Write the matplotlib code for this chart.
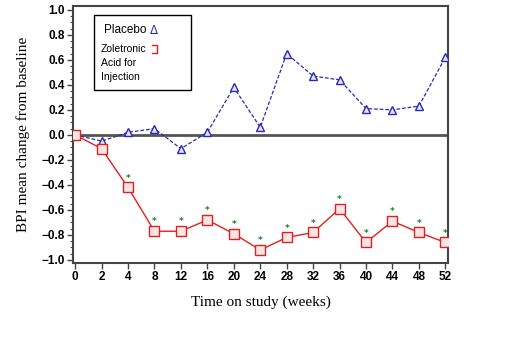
import matplotlib
matplotlib.use("Agg")
import matplotlib.pyplot as plt
from matplotlib.ticker import MultipleLocator, FuncFormatter
from matplotlib.patches import Rectangle
from matplotlib.lines import Line2D

weeks = ["0", "2", "4", "8", "12", "16", "20", "24", "28", "32", "36", "40", "44", "48", "52"]
placebo = [0.0, -0.05, 0.02, 0.05, -0.11, 0.02, 0.38, 0.06, 0.65, 0.47, 0.44, 0.21, 0.20, 0.23, 0.62]
zoledronic = [0.0, -0.11, -0.42, -0.77, -0.77, -0.68, -0.79, -0.92, -0.82, -0.78, -0.59, -0.86, -0.69, -0.78, -0.86]
significant = [False, False, True, True, True, True, True, True, True, True, True, True, True, True, True]

fig = plt.figure(figsize=(5.12, 3.39), dpi=100)
W, H = 512, 339
ax = fig.add_axes([73 / W, 1 - 263 / H, (448 - 73) / W, (263 - 6) / H])

x = list(range(len(weeks)))
ax.axhline(0, color="#555555", lw=2, zorder=1)
ax.plot(x, placebo, color="#2a2ab8", lw=0.9, ls=(0, (3, 1.5)), marker="^", ms=6,
        mfc="#e4e4f8", mec="#2a2ab8", mew=1.0, zorder=3)
ax.plot(x, zoledronic, color="#e02020", lw=1.0, marker="s", ms=6.5,
        mfc="#fbe4e4", mec="#e02020", mew=1.0, zorder=3)
for xi, yi, s in zip(x, zoledronic, significant):
    if s:
        ax.annotate("*", (xi, yi), xytext=(0, 3.5), textcoords="offset points",
                    ha="center", va="bottom", color="#208020", fontsize=6.5, fontweight="bold")

ax.set_xlim(-0.08, 14.1)
ax.set_ylim(-1.024, 1.03)
ax.set_xticks(x)
ax.set_xticklabels(weeks)
ax.yaxis.set_major_locator(MultipleLocator(0.2))
ax.yaxis.set_minor_locator(MultipleLocator(0.05))
ax.yaxis.set_major_formatter(FuncFormatter(
    lambda v, p: ("%.1f" % (0.0 if abs(v) < 1e-9 else v)).replace("-", "\u2212")))
for lab in ax.get_xticklabels() + ax.get_yticklabels():
    lab.set_fontweight("bold")
    lab.set_fontfamily("Liberation Sans")
    lab.set_fontsize(8.5)
ax.tick_params(axis="both", which="major", length=4, width=1, color="#444444", pad=2)
ax.tick_params(axis="y", which="minor", length=2, width=0.8, color="#444444")
for sp in ax.spines.values():
    sp.set_color("#444444")
    sp.set_linewidth(1.5)

ax.set_xlabel("Time on study (weeks)", fontfamily="Liberation Serif", fontsize=11, labelpad=9)
ax.set_ylabel("BPI mean change from baseline", fontfamily="Liberation Serif", fontsize=11, labelpad=8)

# legend box
lx0, ly0, lx1, ly1 = 94, 15, 191, 90
fig.patches.append(Rectangle((lx0 / W, 1 - ly1 / H), (lx1 - lx0) / W, (ly1 - ly0) / H,
                             transform=fig.transFigure, fill=True, fc="white",
                             ec="black", lw=1.0, zorder=5))
fig.text(104 / W, 1 - 30 / H, "Placebo", fontsize=8.5, fontfamily="Liberation Sans", va="center", zorder=6)
fig.text(150 / W, 1 - 30 / H, "\u0394", fontsize=8.5, color="#2a2ab8", fontfamily="DejaVu Sans", va="center", zorder=6)
fig.text(101 / W, 1 - 49 / H, "Zoletronic", fontsize=7.5, fontfamily="Liberation Sans", va="center", zorder=6)
fig.lines.append(Line2D([152 / W, 157 / W, 157 / W, 152 / W],
                        [1 - 45 / H, 1 - 45 / H, 1 - 53 / H, 1 - 53 / H],
                        transform=fig.transFigure, color="#e02020", lw=1.0, zorder=6))
fig.text(101 / W, 1 - 63 / H, "Acid for", fontsize=7.5, fontfamily="Liberation Sans", va="center", zorder=6)
fig.text(101 / W, 1 - 77 / H, "Injection", fontsize=7.5, fontfamily="Liberation Sans", va="center", zorder=6)

fig.savefig("out.png", dpi=100)
